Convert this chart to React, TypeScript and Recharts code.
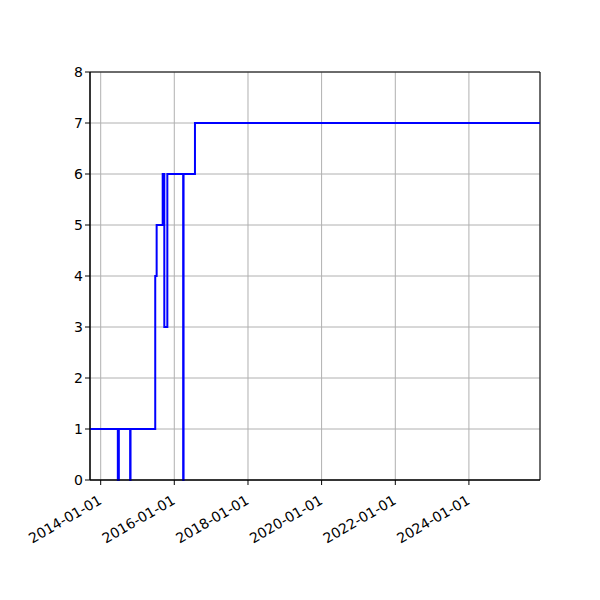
import React from 'react';
import { CartesianGrid, Line, LineChart, ReferenceArea, XAxis, YAxis } from 'recharts';

// step changes (value holds until the next date)
const dates = [
  '2013-09-17', '2014-06-20', '2014-06-30', '2014-10-20', '2014-10-24',
  '2015-06-26', '2015-07-10', '2015-09-08', '2015-09-24', '2015-10-24',
  '2016-03-29', '2016-04-02', '2016-07-24', '2025-12-06',
];
const values = [1, 0, 1, 0, 1, 4, 5, 6, 3, 6, 0, 6, 7, 7];

const tickDates = ['2014-01-01', '2016-01-01', '2018-01-01', '2020-01-01', '2022-01-01', '2024-01-01'];
const yTicks = [0, 1, 2, 3, 4, 5, 6, 7, 8];

const toTime = (s: string) => new Date(s + 'T00:00:00Z').getTime();
const fmt = (t: number) => new Date(t).toISOString().slice(0, 10);

const data = dates.map((d, i) => ({ t: toTime(d), v: values[i] }));
const xMin = data[0].t;
const xMax = data[data.length - 1].t;

const DateTick = (props: any) => {
  const { x, y, payload } = props;
  return (
    <g transform={`translate(${x + 2},${y + 16}) rotate(-30)`}>
      <text x={0} y={0} textAnchor="end" fontSize={14} fill="#000" fontFamily="DejaVu Sans">
        {fmt(payload.value)}
      </text>
    </g>
  );
};

export default function App() {
  return (
    <div style={{ position: 'absolute', left: 0, top: 0, background: '#fff' }}>
      <LineChart width={600} height={600} data={data}
        margin={{ top: 72, right: 60, bottom: 60, left: 40 }}>
        <CartesianGrid stroke="#b0b0b0" strokeWidth={1} />
        <XAxis dataKey="t" type="number" domain={[xMin, xMax]} allowDataOverflow
          ticks={tickDates.map(toTime)} tick={<DateTick />} tickSize={5} height={60}
          stroke="#000" interval={0} />
        <YAxis type="number" domain={[0, 8]} ticks={yTicks} width={50} tickSize={5}
          stroke="#000" tick={{ fill: '#000', fontSize: 14, fontFamily: 'DejaVu Sans' }} interval={0} />
        <ReferenceArea x1={xMin} x2={xMax} y1={0} y2={8} fill="none" stroke="#000" strokeWidth={1} />
        <Line type="stepAfter" dataKey="v" stroke="blue" strokeWidth={2} dot={false} isAnimationActive={false} />
      </LineChart>
    </div>
  );
}
